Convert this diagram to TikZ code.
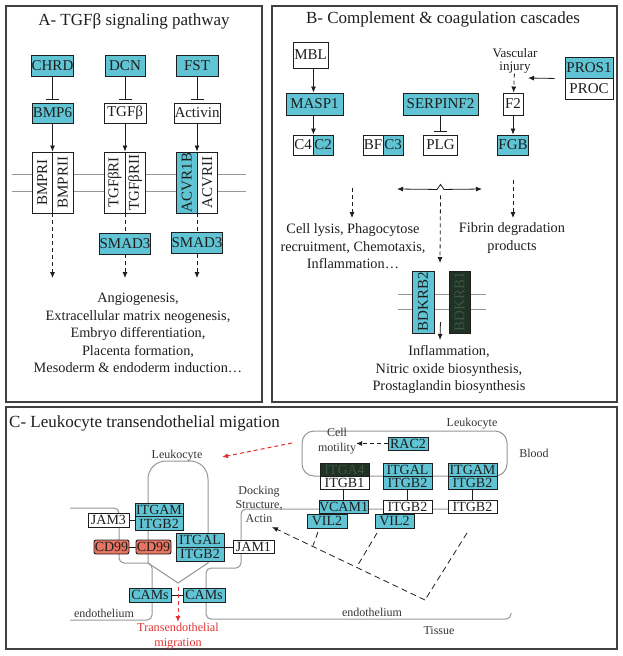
\documentclass[tikz,border=0pt]{standalone}
\usepackage{fontspec}
\setmainfont{Liberation Serif}
\usepackage{graphicx}
\usetikzlibrary{arrows.meta,positioning}
\definecolor{hitcyan}{RGB}{96,196,212}
\definecolor{darkgene}{RGB}{31,50,36}
\definecolor{darktext}{RGB}{62,84,66}
\definecolor{cdsalmon}{RGB}{232,116,98}
\definecolor{migred}{RGB}{226,50,50}
\definecolor{cellgray}{RGB}{150,150,150}
\definecolor{ink}{RGB}{30,30,30}
\tikzset{
	panelframe/.style={draw=ink!85, line width=1.3pt},
	paneltitle/.style={inner sep=0pt, text=ink, font=\fontsize{17}{20}\selectfont},
	gene/.style={draw=ink, line width=0.9pt, inner sep=0pt, fill=white, text=ink, font=\fontsize{15}{15}\selectfont},
	hit/.style={gene, fill=hitcyan},
	recep/.style={gene, minimum width=20.5pt, minimum height=61pt},
	cgene/.style={gene, font=\fontsize{14}{14}\selectfont, minimum height=13.5pt},
	chit/.style={cgene, fill=hitcyan},
	cdgene/.style={cgene, fill=cdsalmon, rounded corners=2pt, minimum width=35pt, minimum height=14pt},
	bodytext/.style={align=center, inner sep=0pt, text=ink, font=\fontsize{14.3}{17.5}\selectfont},
	clabel/.style={align=center, inner sep=0pt, text=ink!90, font=\fontsize{12}{14}\selectfont},
	act/.style={-{Latex[length=6pt,width=5pt]}, line width=0.8pt, draw=ink},
	dashline/.style={line width=0.8pt, draw=ink, dash pattern=on 4pt off 3pt},
	dashact/.style={act, dash pattern=on 4pt off 3pt},
	inhib/.style={-{Bar[width=13pt]}, line width=0.8pt, draw=ink, shorten >=3pt},
	bond/.style={line width=1pt, draw=ink},
	membrane/.style={draw=cellgray, line width=0.8pt},
	cellline/.style={draw=cellgray, line width=1pt},
	redact/.style={-{Latex[length=6pt,width=5pt]}, line width=1pt, draw=migred, dash pattern=on 4pt off 3pt}
}
\begin{document}
\begin{tikzpicture}[x=1pt,y=-1pt]
	\useasboundingbox (0,0) rectangle (623,656);
	\draw[panelframe] (6,6) rectangle (262,402);
	\draw[panelframe] (272,6) rectangle (617,402);
	\draw[panelframe] (6,407) rectangle (617,649);

	\node[paneltitle] (titleA) at (134,21) {A- TGFβ signaling pathway};
	\node[hit, minimum width=41pt, minimum height=21pt] (chrd) at (52.5,65.5) {CHRD};
	\node[hit, minimum width=40pt, minimum height=21pt] (dcn) at (125,65.5) {DCN};
	\node[hit, minimum width=42pt, minimum height=21pt] (fst) at (197,65.5) {FST};
	\node[hit, minimum width=41pt, minimum height=20pt] (bmp6) at (52.5,113) {BMP6};
	\node[gene, minimum width=42pt, minimum height=20pt] (tgfb) at (125,113) {TGFβ};
	\node[gene, minimum width=46pt, minimum height=20pt] (activin) at (197,113) {Activin};
	\draw[inhib] (chrd) -- (bmp6);
	\draw[inhib] (dcn) -- (tgfb);
	\draw[inhib] (fst) -- (activin);
	\draw[membrane] (12,174) -- (246,174) (12,191) -- (246,191);
	\node[recep] (bmpr1) at (42.25,182.5) {\rotatebox{90}{BMPRI}};
	\node[recep] (bmpr2) at (62.75,182.5) {\rotatebox{90}{BMPRII}};
	\node[recep] (tgfbr1) at (114.75,182.5) {\rotatebox{90}{TGFβRI}};
	\node[recep] (tgfbr2) at (135.25,182.5) {\rotatebox{90}{TGFβRII}};
	\node[recep, fill=hitcyan] (acvr1b) at (186.75,182.5) {\rotatebox{90}{ACVR1B}};
	\node[recep] (acvr2) at (207.25,182.5) {\rotatebox{90}{ACVRII}};
	\draw[act] (bmp6) -- (bmp6 |- bmpr1.north);
	\draw[act] (tgfb) -- (tgfb |- tgfbr1.north);
	\draw[act] (activin) -- (activin |- acvr1b.north);
	\node[hit, minimum width=51pt, minimum height=21pt] (smad3a) at (125,243.5) {SMAD3};
	\node[hit, minimum width=51pt, minimum height=21pt] (smad3b) at (197,243) {SMAD3};
	\coordinate (outA1) at (52.5,278);
	\coordinate (outA2) at (125,278);
	\coordinate (outA3) at (197,278);
	\draw[dashact] (bmp6 |- bmpr1.south) -- (outA1);
	\draw[dashline] (tgfb |- tgfbr1.south) -- (smad3a);
	\draw[dashact] (smad3a) -- (outA2);
	\draw[dashline] (activin |- acvr1b.south) -- (smad3b);
	\draw[dashact] (smad3b) -- (outA3);
	\node[bodytext] (bioA) at (138,333) {Angiogenesis,\\Extracellular matrix neogenesis,\\Embryo differentiation,\\Placenta formation,\\Mesoderm \& endoderm induction…};

	\node[paneltitle] (titleB) at (443,19) {B- Complement \& coagulation cascades};
	\node[gene, minimum width=35pt, minimum height=26pt] (mbl) at (310.5,55) {MBL};
	\node[hit, minimum width=57pt, minimum height=22pt] (masp1) at (314.5,104) {MASP1};
	\node[gene, minimum width=20pt, minimum height=20pt] (c4) at (303,145) {C4};
	\node[hit, minimum width=20pt, minimum height=20pt] (c2) at (323,145) {C2};
	\node[gene, minimum width=20pt, minimum height=20pt] (bf) at (373,145) {BF};
	\node[hit, minimum width=20pt, minimum height=20pt] (c3) at (393,145) {C3};
	\draw[act] (mbl.south -| c4.east) -- (masp1.north -| c4.east);
	\draw[act] (masp1.south -| c4.east) -- (c4.north east);
	\node[hit, minimum width=75pt, minimum height=22pt] (serpinf2) at (440.5,104) {SERPINF2};
	\node[gene, minimum width=34pt, minimum height=20pt] (plg) at (440.5,145) {PLG};
	\draw[inhib] (serpinf2) -- (plg);
	\node[bodytext, font=\fontsize{13}{13}\selectfont] (injury) at (515,61) {Vascular\\injury};
	\node[gene, minimum width=20pt, minimum height=22pt] (f2) at (513,104) {F2};
	\node[hit, minimum width=48pt, minimum height=21pt] (pros1) at (589,67.5) {PROS1};
	\node[gene, minimum width=48pt, minimum height=21pt] (proc) at (589,88.5) {PROC};
	\node[hit, minimum width=31pt, minimum height=20pt] (fgb) at (513,145) {FGB};
	\coordinate (prosEnd) at (528,78);
	\draw[dashact] (injury) -- (f2);
	\draw[act] ([xshift=-10pt]pros1.south west) -- (prosEnd);
	\draw[act] (f2) -- (fgb);
	\coordinate (crossL) at (397,189);
	\coordinate (crossR) at (482,189);
	\draw[{Latex[length=6pt,width=5pt]}-{Latex[length=6pt,width=5pt]}, line width=0.8pt, draw=ink] (crossL) -- ([xshift=-3.5pt,yshift=-34pt]plg.south) -- ([yshift=-29pt]plg.south) -- ([xshift=3.5pt,yshift=-34pt]plg.south) -- (crossR);
	\coordinate (lysisTop) at (352,188);
	\coordinate (lysisEnd) at (352,218);
	\coordinate (fibrinEnd) at (513,218);
	\coordinate (bdkEnd) at (440,263);
	\draw[dashact] (lysisTop) -- (lysisEnd);
	\draw[dashact] ([yshift=-25pt]fgb.south) -- (fibrinEnd);
	\draw[dashact] ([yshift=-40pt]plg.south) -- (bdkEnd);
	\node[bodytext] (lysis) at (353,246.5) {Cell lysis, Phagocytose\\recruitment, Chemotaxis,\\Inflammation…};
	\node[bodytext] (fibrin) at (512,238) {Fibrin degradation\\products};
	\draw[membrane] (398,294) -- (486,294) (398,309) -- (486,309);
	\node[hit, minimum width=22pt, minimum height=62pt] (bdkrb2) at (423,302) {\rotatebox{90}{BDKRB2}};
	\node[gene, fill=darkgene, text=darktext, minimum width=21pt, minimum height=62pt] (bdkrb1) at (459.5,302) {\rotatebox{90}{BDKRB1}};
	\coordinate (bdkOut) at (440,340);
	\draw[act] ([xshift=6pt,yshift=-20pt]bdkrb2.east) -- (bdkOut);
	\node[bodytext] (nitric) at (449,370) {Inflammation,\\Nitric oxide biosynthesis,\\Prostaglandin biosynthesis};

	\node[paneltitle, anchor=west] (titleC) at (9,423) {C- Leukocyte transendothelial migation};
	\draw[cellline, rounded corners=5pt] (70,508) -- (119,508) -- (119,563) -- (152,563) -- (152,620) -- (70,620);
	\draw[cellline, rounded corners=5pt] (511,613) -- (511,619) -- (206,619) -- (206,568) -- (241,568) -- (241,509) -- (497,509);
	\draw[cellline] (148,563) -- (148,479) arc[start angle=180, end angle=270, radius=18] -- (190,461) arc[start angle=270, end angle=360, radius=18] -- (208,563) -- (178,583) -- cycle;
	\draw[cellline, rounded corners=12pt] (302,431) rectangle (507,476);
	\node[clabel] (leukoL) at (177,456) {Leukocyte};
	\node[clabel] (leukoR) at (472,424) {Leukocyte};
	\node[clabel] (blood) at (534,453) {Blood};
	\node[clabel] (tissue) at (439,631) {Tissue};
	\node[clabel] (endoL) at (104,613) {endothelium};
	\node[clabel] (endoR) at (372,612) {endothelium};
	\node[clabel] (docking) at (259,504) {Docking\\Structure,\\Actin};
	\node[clabel, font=\fontsize{12}{15}\selectfont] (motility) at (337,441.5) {Cell\\motility};

	\node[cgene, minimum width=41pt, minimum height=14pt] (jam3) at (108.5,520) {JAM3};
	\node[chit, minimum width=48pt] (itgamL) at (159,510) {ITGAM};
	\node[chit, minimum width=48pt] (itgb2L) at (159,523.5) {ITGB2};
	\node[cdgene] (cd99a) at (111.5,547) {CD99};
	\node[cdgene] (cd99b) at (153.5,547) {CD99};
	\node[chit, minimum width=48pt, minimum height=14pt] (itgalL) at (200,540) {ITGAL};
	\node[chit, minimum width=48pt, minimum height=14pt] (itgb2M) at (200,554) {ITGB2};
	\node[cgene, minimum width=41pt, minimum height=13pt] (jam1) at (253.5,546.5) {JAM1};
	\node[chit, minimum width=42pt, minimum height=14pt] (camsL) at (150,595) {CAMs};
	\node[chit, minimum width=42pt, minimum height=14pt] (camsR) at (204,595) {CAMs};
	\draw[bond] (jam3) -- (jam3 -| itgb2L.west);
	\draw[bond] (cd99a) -- (cd99b);
	\draw[bond] (itgalL.south east) -- (jam1.west |- itgalL.south east);
	\draw[bond] (camsL) -- (camsR);

	\node[chit, minimum width=40pt, minimum height=13pt] (rac2) at (408,443.5) {RAC2};
	\draw[dashact] (rac2.west) -- (motility.east |- rac2.west);
	\node[cgene, fill=darkgene, text=darktext, minimum width=49pt, minimum height=13pt] (itga4) at (344.5,469.5) {ITGA4};
	\node[cgene, minimum width=49pt, minimum height=13pt] (itgb1) at (344.5,482.5) {ITGB1};
	\node[chit, minimum width=49pt, minimum height=13pt] (itgalR) at (407.5,469.5) {ITGAL};
	\node[chit, minimum width=49pt, minimum height=13pt] (itgb2R) at (407.5,482.5) {ITGB2};
	\node[chit, minimum width=49pt, minimum height=13pt] (itgamR) at (472.5,469.5) {ITGAM};
	\node[chit, minimum width=49pt, minimum height=13pt] (itgb2RR) at (472.5,482.5) {ITGB2};
	\node[chit, minimum width=49pt, minimum height=13pt] (vcam1) at (343.5,506.5) {VCAM1};
	\node[cgene, minimum width=49pt, minimum height=13pt] (itgb2w1) at (407.5,506.5) {ITGB2};
	\node[cgene, minimum width=49pt, minimum height=13pt] (itgb2w2) at (472.5,506.5) {ITGB2};
	\node[chit, minimum width=40pt, minimum height=14pt] (vil2a) at (327,521) {VIL2};
	\node[chit, minimum width=39pt, minimum height=14pt] (vil2b) at (394.5,521) {VIL2};
	\draw[bond] (itgb1.south -| vcam1.north) -- (vcam1.north);
	\draw[bond] (itgb2R) -- (itgb2w1);
	\draw[bond] (itgb2RR) -- (itgb2w2);

	\coordinate (dockCorner) at (425,600);
	\coordinate (actinTip) at (272,527);
	\coordinate (junctionA) at (313,545.5);
	\coordinate (junctionB) at (357,566.5);
	\coordinate (vilStartA) at (318,532);
	\coordinate (vilStartB) at (377,533);
	\coordinate (itgStart) at (467,533);
	\draw[dashact, dash pattern=on 6pt off 4pt] (dockCorner) -- (actinTip);
	\draw[dashline, dash pattern=on 6pt off 4pt] (vilStartA) -- (junctionA);
	\draw[dashline, dash pattern=on 6pt off 4pt] (vilStartB) -- (junctionB);
	\draw[dashline, dash pattern=on 6pt off 4pt] (itgStart) -- (dockCorner);

	\coordinate (redStart) at (292,443);
	\coordinate (redEnd) at (222,457);
	\coordinate (migTop) at (178,587);
	\coordinate (migEnd) at (178,622);
	\draw[redact] (redStart) -- (redEnd);
	\draw[redact] (migTop) -- (migEnd);
	\node[clabel, text=migred, font=\fontsize{12.2}{15}\selectfont] (migtext) at (178,636) {Transendothelial\\migration};
\end{tikzpicture}
\end{document}
